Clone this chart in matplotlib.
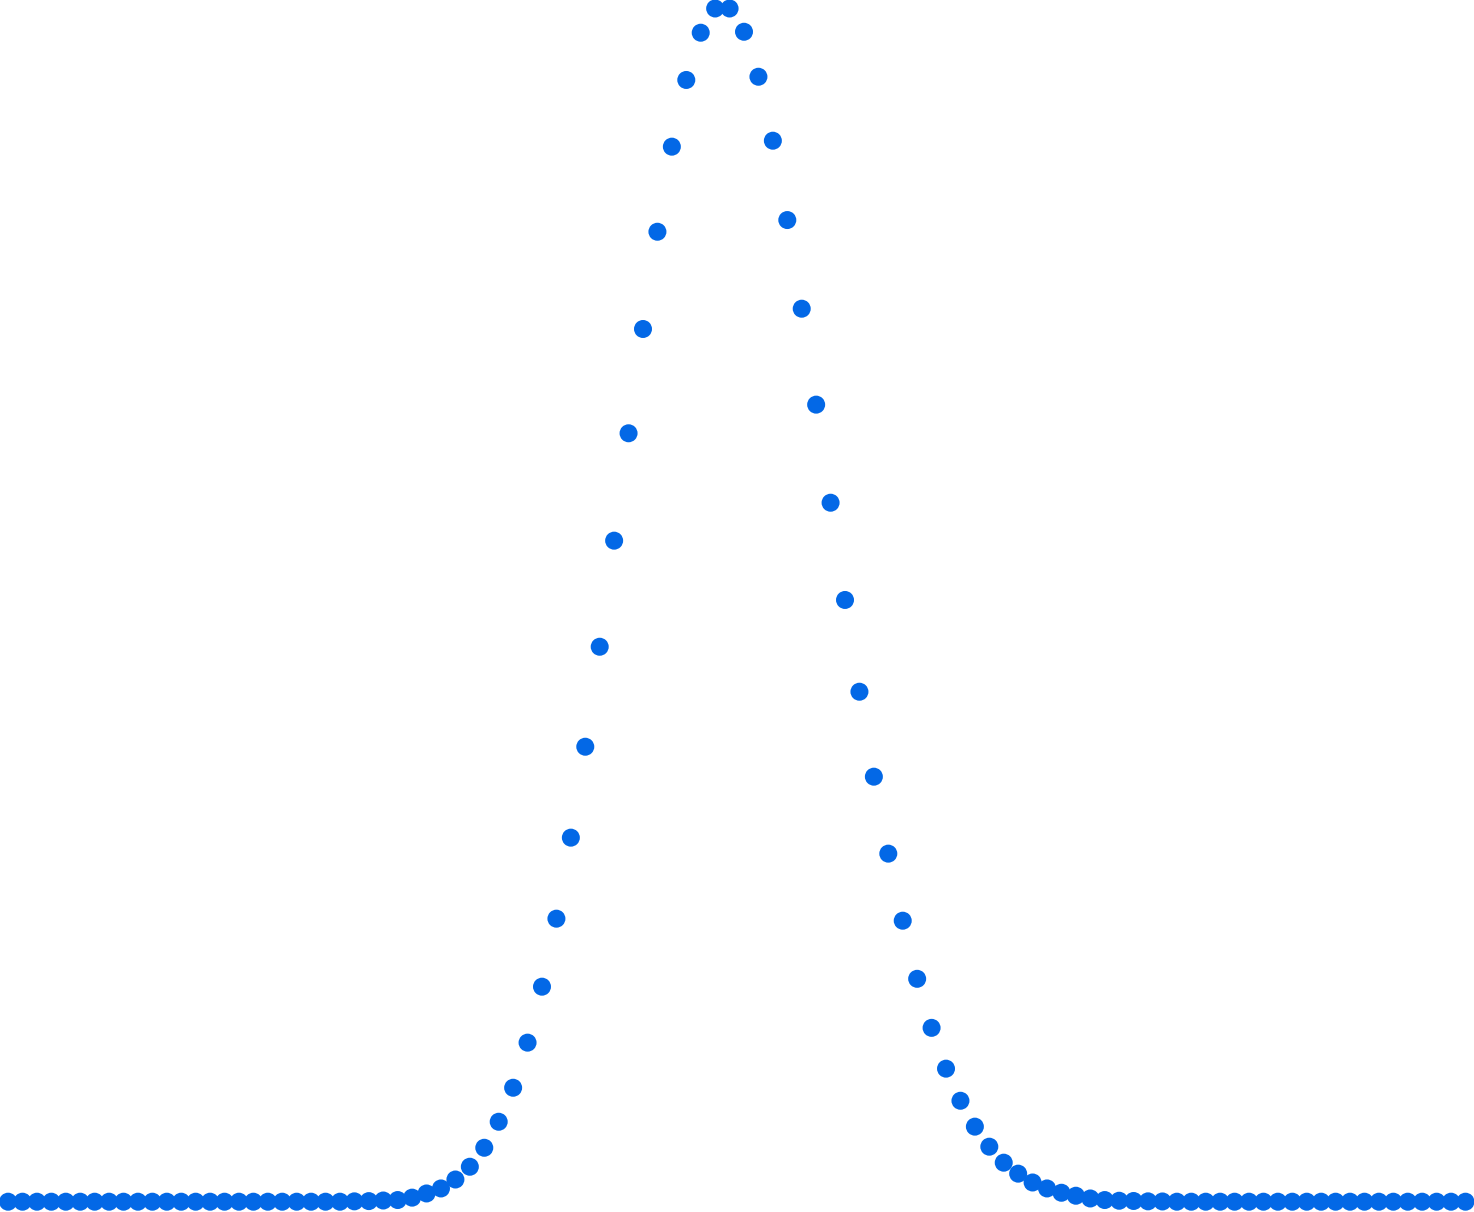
import numpy as np
import matplotlib
matplotlib.use("Agg")
import matplotlib.pyplot as plt

# heights, peak = 1.0, one value per sample
values = [
    0, 0, 0, 0, 0, 0, 0, 0, 0, 0,
    0, 0, 0, 0, 0, 0, 0, 0, 0, 0,
    0, 0, 0, 0, 0.0003, 0.0005, 0.001, 0.0014, 0.0034, 0.0069,
    0.0111, 0.0186, 0.0293, 0.0452, 0.0670, 0.0955, 0.1333, 0.1802, 0.2372, 0.3051,
    0.3813, 0.4651, 0.5540, 0.6440, 0.7314, 0.8129, 0.8842, 0.9401, 0.9797, 1.0,
    1.0, 0.9805, 0.9428, 0.8892, 0.8227, 0.7484, 0.6680, 0.5858, 0.5043, 0.4274,
    0.3562, 0.2917, 0.2355, 0.1868, 0.1457, 0.1115, 0.0846, 0.0629, 0.0461, 0.0327,
    0.0235, 0.0161, 0.0111, 0.0075, 0.0050, 0.0027, 0.0014, 0.0008, 0.0006, 0.0003,
    0.0002, 0, 0, 0, 0, 0, 0, 0, 0, 0,
    0, 0, 0, 0, 0, 0, 0, 0, 0, 0,
    0, 0,
]
samples = np.arange(len(values))

fig = plt.figure(figsize=(14.74, 12.12), dpi=100)
ax = fig.add_axes([0, 0, 1, 1])
ax.scatter(samples, values, s=168, color='#0368e6', edgecolors='none', clip_on=False)

ax.set_xlim(-0.561, 101.59)
ax.set_ylim(-0.00863, 1.00712)
ax.axis('off')

fig.savefig('out.png', dpi=100)
